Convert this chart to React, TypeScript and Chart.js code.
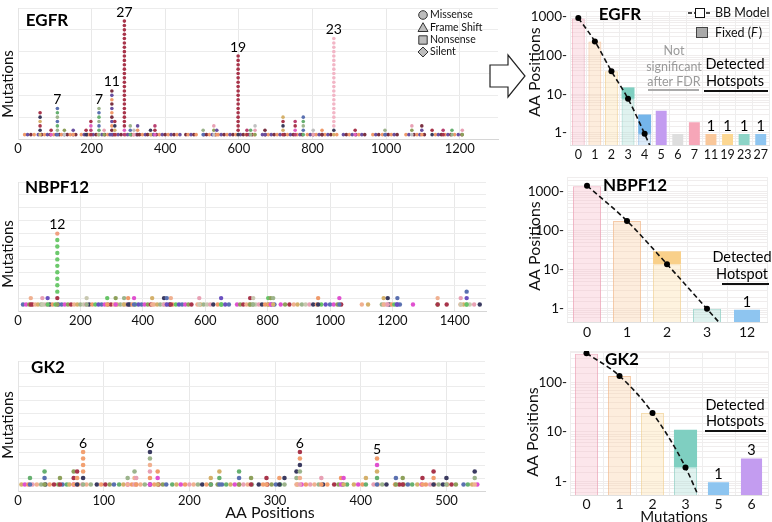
import React, { useEffect, useRef } from "react";
import { Chart, registerables } from "chart.js";

Chart.register(...registerables);

const FF = "Lato, 'Open Sans', 'DejaVu Sans', sans-serif";

// ================= LEFT PANELS: mutations stacked per amino-acid position =================
const egfrStackPos = [60, 90, 107, 126, 150, 185, 198, 220, 234, 255, 263, 289, 305, 315, 325, 360, 372, 503, 532, 540, 598, 622, 632, 644, 671, 720, 753, 775, 802, 826, 858, 916, 997, 1070, 1097, 1125, 1155, 1179, 1207];
const egfrStackCount = [6, 2, 7, 2, 2, 2, 4, 7, 2, 11, 4, 27, 3, 2, 3, 2, 3, 2, 3, 2, 19, 2, 2, 3, 2, 5, 4, 5, 2, 2, 23, 2, 2, 3, 3, 2, 2, 2, 2];
const egfrSingles = [18, 26, 35, 44, 55, 64, 72, 80, 88, 97, 104, 112, 118, 126, 134, 142, 150, 157, 172, 180, 188, 194, 204, 212, 218, 228, 236, 244, 250, 258, 266, 272, 280, 292, 298, 308, 314, 322, 330, 338, 346, 352, 362, 368, 376, 384, 392, 400, 408, 416, 424, 432, 440, 456, 462, 470, 478, 484, 505, 512, 520, 528, 536, 544, 552, 560, 568, 576, 584, 592, 604, 612, 620, 628, 636, 642, 664, 672, 680, 688, 696, 704, 712, 724, 732, 740, 748, 758, 766, 772, 786, 794, 802, 810, 818, 826, 834, 842, 850, 866, 884, 892, 900, 908, 918, 926, 934, 942, 964, 972, 980, 990, 998, 1006, 1014, 1022, 1030, 1054, 1062, 1076, 1084, 1092, 1104, 1134, 1142, 1150, 1160, 1168, 1176, 1186, 1196, 1206];

const nbpfStackPos = [41, 78, 95, 126, 220, 286, 313, 340, 353, 372, 430, 468, 477, 490, 581, 651, 744, 754, 802, 810, 818, 962, 1030, 1172, 1185, 1216, 1345, 1419, 1438];
const nbpfStackCount = [2, 2, 2, 12, 2, 2, 2, 2, 2, 2, 2, 2, 2, 2, 2, 2, 2, 2, 2, 2, 2, 2, 2, 2, 2, 2, 2, 2, 3];
const nbpfSingles = [16, 26, 36, 46, 55, 64, 74, 84, 92, 102, 111, 120, 130, 140, 150, 160, 170, 180, 190, 200, 210, 218, 228, 238, 248, 258, 268, 278, 288, 298, 308, 318, 328, 338, 348, 358, 366, 376, 386, 396, 406, 416, 426, 436, 446, 456, 466, 476, 486, 496, 506, 516, 526, 536, 546, 556, 575, 585, 595, 606, 616, 626, 640, 652, 664, 676, 702, 712, 722, 732, 742, 752, 762, 772, 782, 792, 802, 812, 822, 842, 856, 870, 884, 896, 910, 922, 934, 946, 958, 972, 986, 1000, 1012, 1024, 1036, 1102, 1122, 1166, 1174, 1182, 1190, 1198, 1206, 1214, 1224, 1266, 1345, 1374, 1418, 1428, 1438, 1448, 1462, 1480];

const gk2StackPos = [14, 31, 49, 65, 69, 76, 128, 136, 138, 154, 163, 225, 235, 258, 272, 290, 305, 311, 325, 329, 354, 377, 380, 406, 419, 441, 449, 472, 485, 500, 533];
const gk2StackCount = [2, 3, 2, 3, 3, 6, 2, 3, 2, 6, 3, 2, 3, 3, 2, 2, 2, 2, 3, 6, 2, 2, 2, 2, 5, 2, 2, 2, 3, 2, 3];
const gk2Singles = [4, 8, 12, 17, 22, 27, 32, 37, 42, 47, 52, 57, 60, 65, 70, 75, 80, 85, 92, 97, 102, 107, 112, 118, 123, 128, 133, 138, 143, 148, 154, 159, 164, 169, 173, 180, 185, 190, 195, 200, 205, 210, 215, 220, 225, 233, 238, 243, 248, 253, 258, 263, 268, 273, 281, 286, 291, 296, 301, 306, 326, 331, 336, 341, 346, 351, 356, 361, 369, 374, 379, 384, 392, 397, 402, 415, 420, 425, 430, 440, 445, 450, 455, 460, 466, 471, 476, 481, 486, 491, 496, 501, 506, 511, 520, 525, 530, 536];

const mutationTypes = ["Missense", "Frame Shift", "Nonsense", "Silent"];

// ================= RIGHT PANELS: number of AA positions per mutation count =================
const egfrCats = ["0", "1", "2", "3", "4", "5", "6", "7", "11", "19", "23", "27"];
const egfrObserved = [900, 235, 40, 15, 3, 4, 1, 2, 1, 1, 1, 1];
const egfrModel = [920, 230, 39, 7.6, 0.95];
const egfrModelTail = 0.1;
const egfrHotspots = ["11", "19", "23", "27"];

const nbpfCats = ["0", "1", "2", "3", "12"];
const nbpfObserved = [1400, 180, 30, 1, 1];
const nbpfModel = [1450, 180, 14, 1];
const nbpfModelTail = 0.07;
const nbpfHotspots = ["12"];

const gk2Cats = ["0", "1", "2", "3", "5", "6"];
const gk2Observed = [380, 135, 24, 11, 1, 3];
const gk2Model = [390, 135, 24, 1.9];
const gk2ModelTail = 0.05;
const gk2Hotspots = ["5", "6"];

// ================= styles =================
const egfrPalette = ["#a8344a", "#8da05a", "#a8344a", "#f09a6a", "#5a70b0", "#d4b06a", "#e8a0b4", "#b84070", "#6a50a0", "#9cb48c", "#3a3a5a", "#c0c0c0", "#e060c0", "#7a3040", "#66b070"];
const nbpfPalette = ["#8da05a", "#f09a6a", "#d4b06a", "#5a70b0", "#e8a0b4", "#a8344a", "#66c466", "#9cb48c", "#e050d0", "#3a3a60", "#f0b090", "#6a50c0", "#c8c8b0"];
const gk2Palette = ["#8da05a", "#f09a6a", "#f2a070", "#d4b06a", "#9cb48c", "#5a70b0", "#e8a0b4", "#a8344a", "#e050d0", "#3a3a60", "#66b070", "#f0b090"];
const egfrSpecial: Record<number, string> = { 289: "#a8344a", 598: "#a8344a", 858: "#f2b6c6" };
const nbpfSpecial: Record<number, string> = { 126: "#6cc96c" };
const nbpfTop: Record<number, string> = { 126: "#f0a080" };
const gk2Special: Record<number, string> = { 76: "#f2a070" };

const paleFill = ["rgba(247,196,208,0.42)", "rgba(250,212,175,0.42)", "rgba(252,226,178,0.42)", "rgba(176,222,214,0.4)", "rgba(168,204,240,0.4)"];
const paleBorder = ["rgba(236,160,180,0.75)", "rgba(242,186,140,0.75)", "rgba(242,210,150,0.75)", "rgba(140,205,195,0.75)", "rgba(130,180,230,0.75)"];
const darkFill = ["#f3b3c2", "#f8c597", "#f9d08a", "#7fcfc1", "#74b5ea"];
const egfrSolid = [null, null, null, null, null, "#c39cf0", "#dedede", "#f6a6b8", "#f9c79a", "#fcd792", "#8dd4c7", "#8ec5f0"];
const nbpfSolid = [null, null, null, null, "#8ec5f0"];
const gk2Solid = [null, null, null, null, "#8ec5f0", "#c39cf0"];

type TextItem = { t: string; x: number; y: number; size: number; bold?: boolean; color?: string; rot?: boolean; align?: CanvasTextAlign };
type LineItem = { x1: number; y1: number; x2: number; y2: number; color: string; w: number; dash?: number[] };

function drawTexts(ctx: CanvasRenderingContext2D, items: TextItem[]) {
  items.forEach((it) => {
    ctx.save();
    ctx.font = `${it.bold ? "bold " : ""}${it.size}px ${FF}`;
    ctx.fillStyle = it.color || "#000";
    ctx.textAlign = it.align || "center";
    ctx.textBaseline = "middle";
    ctx.translate(it.x, it.y);
    if (it.rot) ctx.rotate(-Math.PI / 2);
    ctx.fillText(it.t, 0, 0);
    ctx.restore();
  });
}
function drawLines(ctx: CanvasRenderingContext2D, items: LineItem[]) {
  items.forEach((l) => {
    ctx.save();
    ctx.strokeStyle = l.color;
    ctx.lineWidth = l.w;
    ctx.setLineDash(l.dash || []);
    ctx.beginPath();
    ctx.moveTo(l.x1, l.y1);
    ctx.lineTo(l.x2, l.y2);
    ctx.stroke();
    ctx.restore();
  });
}

function drawMutLegend(ctx: CanvasRenderingContext2D) {
  const mx = 423;
  const ys = [15, 27.5, 40, 52];
  ctx.save();
  ctx.fillStyle = "#bdbdbd";
  ctx.strokeStyle = "#333";
  ctx.lineWidth = 1;
  ctx.beginPath(); ctx.arc(mx, ys[0], 4.3, 0, Math.PI * 2); ctx.fill(); ctx.stroke();
  ctx.beginPath(); ctx.moveTo(mx, ys[1] - 4.8); ctx.lineTo(mx + 5, ys[1] + 4); ctx.lineTo(mx - 5, ys[1] + 4); ctx.closePath(); ctx.fill(); ctx.stroke();
  ctx.beginPath(); ctx.rect(mx - 4.2, ys[2] - 4.2, 8.4, 8.4); ctx.fill(); ctx.stroke();
  ctx.beginPath(); ctx.moveTo(mx, ys[3] - 5); ctx.lineTo(mx + 5, ys[3]); ctx.lineTo(mx, ys[3] + 5); ctx.lineTo(mx - 5, ys[3]); ctx.closePath(); ctx.fill(); ctx.stroke();
  ctx.restore();
  drawTexts(ctx, mutationTypes.map((t, i) => ({ t, x: 430, y: ys[i], size: 10.5, align: "left" as CanvasTextAlign, color: "#111" })));
}

function buildDots(pos: number[], cnt: number[], singles: number[], palette: string[], special: Record<number, string>, top: Record<number, string>) {
  const data: { x: number; y: number }[] = [];
  const colors: string[] = [];
  singles.forEach((p, k) => {
    data.push({ x: p, y: 1 });
    colors.push(palette[(k * 5 + 3) % palette.length]);
  });
  pos.forEach((p, i) => {
    const n = cnt[i] || 0;
    for (let l = 1; l <= n; l++) {
      data.push({ x: p, y: l });
      let c = palette[(i * 7 + l * 5) % palette.length];
      if (special[p] && l >= 3) c = special[p];
      if (top[p] && l === n) c = top[p];
      colors.push(c);
    }
  });
  return { data, colors };
}

type LeftPanel = {
  pos: number[]; cnt: number[]; singles: number[]; palette: string[]; special: Record<number, string>; top: Record<number, string>;
  xMax: number; xStep: number; yMax: number; yStep: number; labelMin: number; radius: number;
  padTop: number; padRight: number; xAxisH: number; texts: TextItem[]; legend?: boolean;
};

function leftConfig(p: LeftPanel): any {
  const { data, colors } = buildDots(p.pos, p.cnt, p.singles, p.palette, p.special, p.top);
  return {
    type: "scatter",
    data: { datasets: [{ data, pointBackgroundColor: colors, pointBorderWidth: 0, pointRadius: p.radius, pointHoverRadius: p.radius }] },
    options: {
      responsive: false, animation: false, events: [],
      layout: { padding: { top: p.padTop, right: p.padRight, left: 0, bottom: 0 } },
      plugins: { legend: { display: false }, tooltip: { enabled: false } },
      scales: {
        x: {
          type: "linear", min: 0, max: p.xMax,
          afterFit: (s: any) => { s.height = p.xAxisH; },
          ticks: { stepSize: p.xStep, includeBounds: false, autoSkip: false, maxRotation: 0, padding: 2, color: "#111", font: { family: FF, size: 13 }, callback: (v: any) => String(v) },
          grid: { color: "#e8e8e8", drawTicks: false },
          border: { color: "#d6d6d6" },
        },
        y: {
          min: 0, max: p.yMax,
          afterFit: (s: any) => { s.width = 18; },
          ticks: { display: false, stepSize: p.yStep },
          grid: { color: "#ececec", drawTicks: false },
          border: { color: "#e4e4e4" },
        },
      },
    },
    plugins: [{
      id: "leftAnno",
      afterDatasetsDraw(chart: any) {
        const ctx = chart.ctx;
        const xs = chart.scales.x, ys = chart.scales.y;
        drawTexts(ctx, p.texts);
        const labels: TextItem[] = [];
        p.pos.forEach((x, i) => {
          if (p.cnt[i] >= p.labelMin) labels.push({ t: String(p.cnt[i]), x: xs.getPixelForValue(x), y: ys.getPixelForValue(p.cnt[i]) - 9, size: 14 });
        });
        drawTexts(ctx, labels);
        if (p.legend) drawMutLegend(ctx);
      },
    }],
  };
}

type RightPanel = {
  cats: string[]; obs: number[]; model: number[]; tail: number; hotspots: string[]; solid: (string | null)[];
  yMin: number; yMax: number; yAxisW: number; padTop: number; padRight: number; xAxisH: number; barPct: number; xFont: number; xPad: number;
  texts: TextItem[]; lines: LineItem[]; bbLegend?: boolean;
};

function rightConfig(p: RightPanel): any {
  const nFit = p.model.length;
  const pale = p.obs.map((v, i) => (i < nFit ? Math.min(v, p.model[i]) : v));
  const dark = p.obs.map((v, i) => (i < nFit && v > p.model[i] * 1.2 ? [p.model[i], v] : null));
  const paleBg = p.cats.map((_, i) => (i < nFit ? paleFill[i] : (p.solid[i] as string)));
  const paleBd = p.cats.map((_, i) => (i < nFit ? paleBorder[i] : "rgba(0,0,0,0)"));
  const darkBg = p.cats.map((_, i) => (i < nFit ? darkFill[i] : "rgba(0,0,0,0)"));
  const lineData = [...p.model, p.tail];
  const ptR = lineData.map((_, i) => (i < nFit ? 3 : 0));
  return {
    type: "bar",
    data: {
      labels: p.cats,
      datasets: [
        { type: "line", data: lineData, borderColor: "#111", borderWidth: 1.6, borderDash: [5, 3], pointRadius: ptR, pointHoverRadius: ptR, pointBackgroundColor: "#000", pointBorderWidth: 0, fill: false, cubicInterpolationMode: "monotone", order: 0 },
        { data: dark, backgroundColor: darkBg, borderWidth: 0, grouped: false, barPercentage: p.barPct, categoryPercentage: 1, order: 1 },
        { data: pale, backgroundColor: paleBg, borderColor: paleBd, borderWidth: 1, grouped: false, barPercentage: p.barPct, categoryPercentage: 1, order: 2 },
      ],
    },
    options: {
      responsive: false, animation: false, events: [],
      layout: { padding: { top: p.padTop, right: p.padRight, left: 0, bottom: 0 } },
      plugins: { legend: { display: false }, tooltip: { enabled: false } },
      scales: {
        x: {
          offset: true,
          afterFit: (s: any) => { s.height = p.xAxisH; },
          ticks: { autoSkip: false, maxRotation: 0, minRotation: 0, padding: p.xPad, color: "#111", font: { family: FF, size: p.xFont } },
          grid: { color: "#eeeeee", drawTicks: false, offset: true },
          border: { color: "#e0e0e0" },
        },
        y: {
          type: "logarithmic", min: p.yMin, max: p.yMax,
          afterFit: (s: any) => { s.width = p.yAxisW; },
          ticks: { autoSkip: false, padding: 3, color: "#111", font: { family: FF, size: 13.5 }, callback: (v: any) => ([1, 10, 100, 1000].includes(Number(v)) ? `${v}-` : "") },
          grid: { color: "#f0eded", drawTicks: false },
          border: { display: false },
        },
      },
    },
    plugins: [{
      id: "rightAnno",
      afterDatasetsDraw(chart: any) {
        const ctx = chart.ctx;
        const xs = chart.scales.x, ys = chart.scales.y;
        drawTexts(ctx, p.texts);
        drawLines(ctx, p.lines);
        const labels: TextItem[] = p.hotspots.map((c) => {
          const i = p.cats.indexOf(c);
          return { t: String(p.obs[i]), x: xs.getPixelForValue(i), y: ys.getPixelForValue(p.obs[i]) - 7, size: 14.5 };
        });
        drawTexts(ctx, labels);
        if (p.bbLegend) {
          drawLines(ctx, [{ x1: 168, y1: 13, x2: 192, y2: 13, color: "#111", w: 1.4, dash: [4, 2] }]);
          ctx.save();
          ctx.fillStyle = "#fff"; ctx.strokeStyle = "#111"; ctx.lineWidth = 1;
          ctx.fillRect(175.5, 8.5, 9, 9); ctx.strokeRect(175.5, 8.5, 9, 9);
          ctx.fillStyle = "#a9a9a9"; ctx.strokeStyle = "#444";
          ctx.fillRect(176.5, 27.5, 11, 10); ctx.strokeRect(176.5, 27.5, 11, 10);
          ctx.fillStyle = "#111"; ctx.textBaseline = "middle"; ctx.textAlign = "left";
          ctx.font = `12.5px ${FF}`;
          ctx.fillText("BB Model", 195, 13);
          const a = "Fixed (";
          ctx.fillText(a, 195, 33);
          const w1 = ctx.measureText(a).width;
          ctx.font = `italic 12.5px ${FF}`;
          ctx.fillText("F", 195 + w1, 33);
          const w2 = ctx.measureText("F").width;
          ctx.font = `12.5px ${FF}`;
          ctx.fillText(")", 195 + w1 + w2 + 1, 33);
          ctx.restore();
        }
      },
    }],
  };
}

function ChartBox({ left, top, width, height, make }: { left: number; top: number; width: number; height: number; make: () => any }) {
  const ref = useRef<HTMLCanvasElement>(null);
  useEffect(() => {
    const chart = new Chart(ref.current as HTMLCanvasElement, make());
    return () => chart.destroy();
  }, []);
  return <canvas ref={ref} width={width} height={height} style={{ position: "absolute", left, top, width, height }} />;
}

const mutTitle = (y: number): TextItem => ({ t: "Mutations", x: 8, y, size: 15, rot: true, color: "#111" });
const aaTitle = (x: number, y: number): TextItem => ({ t: "AA Positions", x, y, size: 16, rot: true, color: "#111" });

export default function App() {
  const egfrLeft: LeftPanel = {
    pos: egfrStackPos, cnt: egfrStackCount, singles: egfrSingles, palette: egfrPalette, special: egfrSpecial, top: {},
    xMax: 1304, xStep: 200, yMax: 30, yStep: 5, labelMin: 7, radius: 1.8,
    padTop: 8, padRight: 7, xAxisH: 21, legend: true,
    texts: [{ t: "EGFR", x: 47, y: 21, size: 17, bold: true }, mutTitle(84)],
  };
  const nbpfLeft: LeftPanel = {
    pos: nbpfStackPos, cnt: nbpfStackCount, singles: nbpfSingles, palette: nbpfPalette, special: nbpfSpecial, top: nbpfTop,
    xMax: 1500, xStep: 200, yMax: 20, yStep: 2, labelMin: 7, radius: 2.2,
    padTop: 12, padRight: 19, xAxisH: 19,
    texts: [{ t: "NBPF12", x: 57, y: 18, size: 17, bold: true }, mutTitle(84)],
  };
  const gk2Left: LeftPanel = {
    pos: gk2StackPos, cnt: gk2StackCount, singles: gk2Singles, palette: gk2Palette, special: gk2Special, top: {},
    xMax: 545, xStep: 100, yMax: 20, yStep: 2, labelMin: 5, radius: 2.3,
    padTop: 11, padRight: 20, xAxisH: 31,
    texts: [{ t: "GK2", x: 48, y: 18, size: 17, bold: true }, mutTitle(75), { t: "AA Positions", x: 270, y: 163, size: 16, color: "#111" }],
  };

  const egfrRight: RightPanel = {
    cats: egfrCats, obs: egfrObserved, model: egfrModel, tail: egfrModelTail, hotspots: egfrHotspots, solid: egfrSolid,
    yMin: 0.49, yMax: 1390, yAxisW: 50, padTop: 0, padRight: 2, xAxisH: 15, barPct: 0.78, xFont: 12.5, xPad: 2, bbLegend: true,
    texts: [
      { t: "EGFR", x: 100, y: 15, size: 17, bold: true },
      aaTitle(15, 72),
      { t: "Not", x: 154, y: 51, size: 12.5, color: "#9a9a9a" },
      { t: "significant", x: 154, y: 67, size: 12.5, color: "#9a9a9a" },
      { t: "after FDR", x: 154, y: 82, size: 12.5, color: "#9a9a9a" },
      { t: "Detected", x: 215, y: 64, size: 14.5 },
      { t: "Hotspots", x: 215, y: 81, size: 14.5 },
    ],
    lines: [
      { x1: 128, y1: 90, x2: 179, y2: 90, color: "#aaaaaa", w: 2 },
      { x1: 184, y1: 91, x2: 248, y2: 91, color: "#111", w: 2 },
    ],
  };
  const nbpfRight: RightPanel = {
    cats: nbpfCats, obs: nbpfObserved, model: nbpfModel, tail: nbpfModelTail, hotspots: nbpfHotspots, solid: nbpfSolid,
    yMin: 0.46, yMax: 2420, yAxisW: 47, padTop: 12, padRight: 5, xAxisH: 18, barPct: 0.7, xFont: 14, xPad: 2,
    texts: [
      { t: "NBPF12", x: 115, y: 21, size: 17, bold: true },
      aaTitle(15, 81),
      { t: "Detected", x: 222, y: 92, size: 14.5 },
      { t: "Hotspot", x: 222, y: 109, size: 14.5 },
    ],
    lines: [{ x1: 202, y1: 119, x2: 249, y2: 119, color: "#111", w: 2 }],
  };
  const gk2Right: RightPanel = {
    cats: gk2Cats, obs: gk2Observed, model: gk2Model, tail: gk2ModelTail, hotspots: gk2Hotspots, solid: gk2Solid,
    yMin: 0.525, yMax: 430, yAxisW: 50, padTop: 8, padRight: 4, xAxisH: 27, barPct: 0.7, xFont: 14, xPad: 1,
    texts: [
      { t: "GK2", x: 102, y: 20, size: 17, bold: true },
      aaTitle(13, 92),
      { t: "Detected", x: 215, y: 65, size: 14.5 },
      { t: "Hotspots", x: 215, y: 81, size: 14.5 },
      { t: "Mutations", x: 154, y: 177, size: 15, color: "#111" },
    ],
    lines: [{ x1: 185, y1: 91, x2: 246, y2: 91, color: "#111", w: 2 }],
  };

  return (
    <div style={{ position: "fixed", left: 0, top: 0, width: 772, height: 522, background: "#fff", overflow: "hidden" }}>
      <ChartBox left={0} top={0} width={505} height={160} make={() => leftConfig(egfrLeft)} />
      <ChartBox left={0} top={170} width={505} height={160} make={() => leftConfig(nbpfLeft)} />
      <ChartBox left={0} top={350} width={505} height={172} make={() => leftConfig(gk2Left)} />
      <ChartBox left={520} top={0} width={252} height={160} make={() => rightConfig(egfrRight)} />
      <ChartBox left={520} top={165} width={252} height={175} make={() => rightConfig(nbpfRight)} />
      <ChartBox left={520} top={340} width={252} height={182} make={() => rightConfig(gk2Right)} />
      <svg style={{ position: "absolute", left: 486, top: 52 }} width={42} height={48}>
        <polygon points="4,13 22,13 22,3 39,24 22,45 22,35 4,35" fill="#fff" stroke="#222" strokeWidth={1.2} />
      </svg>
    </div>
  );
}
